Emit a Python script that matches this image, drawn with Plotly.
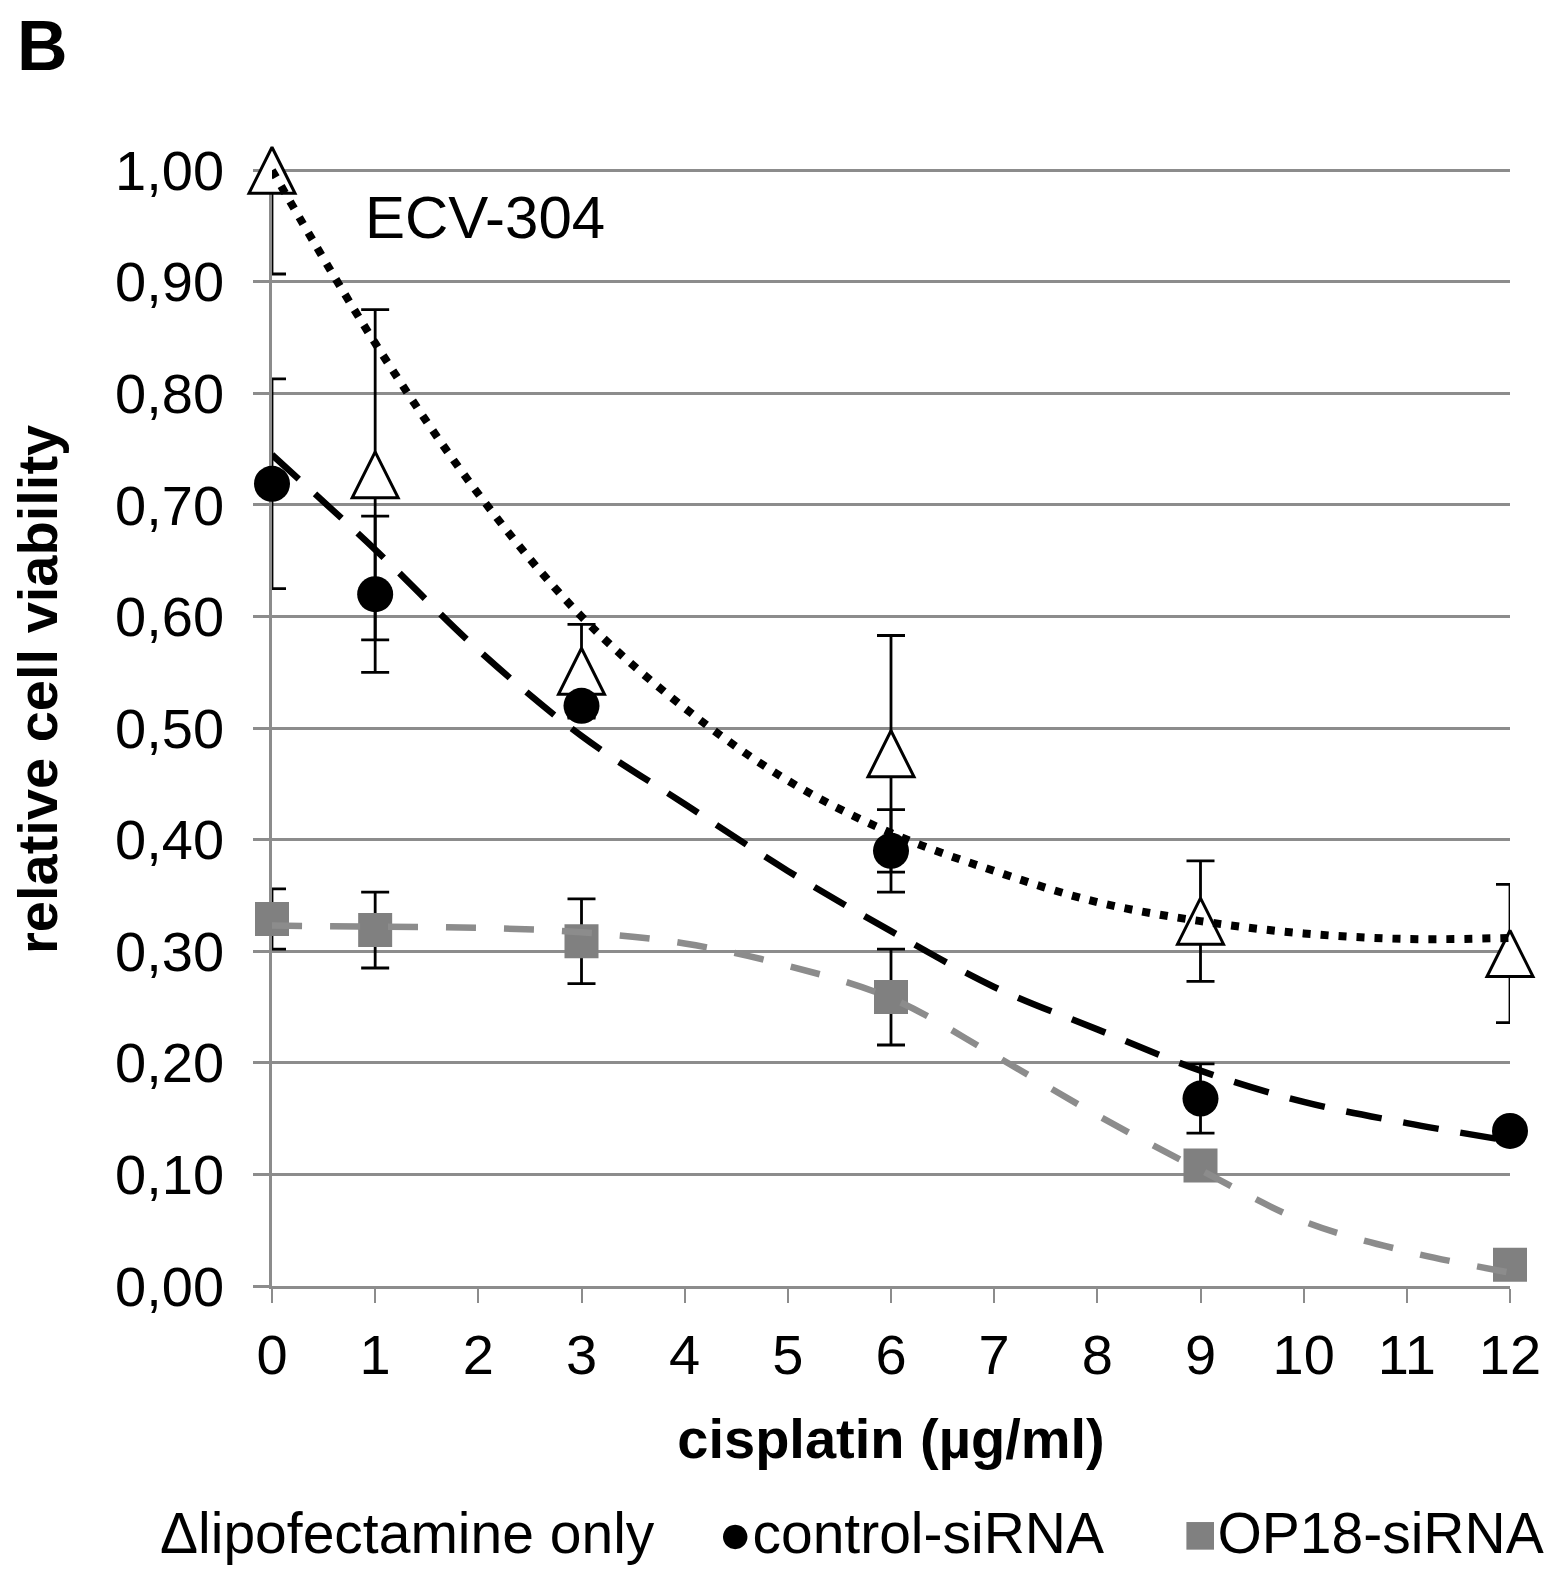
import plotly.graph_objects as go

# ---- data ----
doses = [0, 1, 3, 6, 9, 12]

lipo_mean = [1.00, 0.727, 0.551, 0.477, 0.327, 0.298]
lipo_err = [0.093, 0.148, 0.042, 0.106, 0.054, 0.062]

ctrl_mean = [0.719, 0.620, 0.520, 0.390, 0.168, 0.139]
ctrl_err = [0.094, 0.070, 0.010, 0.037, 0.031, 0.005]

op18_mean = [0.329, 0.319, 0.309, 0.259, 0.108, 0.019]
op18_err = [0.027, 0.034, 0.038, 0.043, 0.005, 0.005]

# trendlines as drawn in the reference (read at each integer dose)
trend_x = [0, 1, 2, 3, 4, 5, 6, 7, 8, 9, 10, 11, 12]
lipo_trend = [1.00, 0.845, 0.71, 0.60, 0.518, 0.453, 0.406, 0.372, 0.344, 0.327, 0.316, 0.311, 0.312]
ctrl_trend = [0.745, 0.66, 0.57, 0.493, 0.432, 0.372, 0.318, 0.268, 0.23, 0.193, 0.165, 0.146, 0.13]
op18_trend = [0.323, 0.322, 0.321, 0.317, 0.307, 0.287, 0.258, 0.207, 0.153, 0.104, 0.058, 0.031, 0.012]

x_ticks = list(range(0, 13))
y_ticks = [0, 0.1, 0.2, 0.3, 0.4, 0.5, 0.6, 0.7, 0.8, 0.9, 1.0]

series_names = ["lipofectamine only", "control-siRNA", "OP18-siRNA"]

FONT = "Liberation Sans, Arial, sans-serif"
GRID = "#8c8c8c"
GRAY = "#808080"

fig = go.Figure()

# error bars (clipped to the plot area)
for mean, err in [(lipo_mean, lipo_err), (ctrl_mean, ctrl_err), (op18_mean, op18_err)]:
    fig.add_trace(go.Scatter(
        x=doses, y=mean, mode="markers",
        marker=dict(size=2, opacity=0),
        error_y=dict(type="data", array=err, visible=True,
                     color="black", thickness=2.8, width=14),
        showlegend=False, hoverinfo="skip", cliponaxis=True))

# markers
fig.add_trace(go.Scatter(
    x=doses, y=lipo_mean, mode="markers", name=series_names[0],
    marker=dict(symbol="arrow-down", angle=180, standoff=23, size=46,
                color="white", line=dict(color="black", width=3)),
    cliponaxis=False, showlegend=False))
fig.add_trace(go.Scatter(
    x=doses, y=ctrl_mean, mode="markers", name=series_names[1],
    marker=dict(symbol="circle", size=36, color="black", line=dict(width=0)),
    cliponaxis=False, showlegend=False))
fig.add_trace(go.Scatter(
    x=doses, y=op18_mean, mode="markers", name=series_names[2],
    marker=dict(symbol="square", size=34, color=GRAY, line=dict(width=0)),
    cliponaxis=False, showlegend=False))

# trendlines
fig.add_trace(go.Scatter(
    x=trend_x, y=lipo_trend, mode="lines", showlegend=False, hoverinfo="skip",
    line=dict(color="black", width=8, dash="8px,10px", shape="spline", smoothing=1)))
fig.add_trace(go.Scatter(
    x=trend_x, y=ctrl_trend, mode="lines", showlegend=False, hoverinfo="skip",
    line=dict(color="black", width=6.5, dash="36px,22px", shape="spline", smoothing=1)))
fig.add_trace(go.Scatter(
    x=trend_x, y=op18_trend, mode="lines", showlegend=False, hoverinfo="skip",
    line=dict(color="#8c8c8c", width=6.5, dash="30px,28px", shape="spline", smoothing=1)))

W, H = 1567, 1574
L, R, T, B = 272, 1567 - 1510, 168, 1574 - 1286
pw, ph = W - L - R, H - T - B


def px(xp):
    return (xp - L) / pw


def py(yp):
    return (H - B - yp) / ph


LEG_FONT = dict(size=57, family=FONT, color="black")
LEG_Y = py(1533)

fig.update_layout(
    width=W, height=H,
    margin=dict(l=L, r=R, t=T, b=B, pad=0),
    paper_bgcolor="white", plot_bgcolor="white",
    separators=", ",
    font=dict(family=FONT, color="black", size=56),
    showlegend=False,
    xaxis=dict(
        range=[0, 12], tickmode="array", tickvals=x_ticks,
        ticktext=[str(v) for v in x_ticks],
        showgrid=False, zeroline=False,
        showline=True, linecolor=GRID, linewidth=2.5,
        ticks="outside", ticklen=14, tickwidth=2, tickcolor=GRID,
        tickfont=dict(size=56, family=FONT, color="black"),
        ticklabelstandoff=4,
        title=dict(text="<b>cisplatin (µg/ml)</b>", font=dict(size=56, family=FONT),
                   standoff=34),
        layer="below traces", automargin=False,
    ),
    yaxis=dict(
        range=[0, 1.002], tickmode="array", tickvals=y_ticks, tickformat=".2f",
        showgrid=True, gridcolor=GRID, gridwidth=2.5, zeroline=False,
        showline=True, linecolor=GRID, linewidth=2.5,
        ticks="outside", ticklen=16, tickwidth=2.5, tickcolor=GRID,
        tickfont=dict(size=56, family=FONT, color="black"),
        ticklabelstandoff=18,
        layer="below traces", automargin=False,
    ),
    annotations=[
        dict(text="<b>relative cell viability</b>", x=px(37), y=py(690),
             xref="paper", yref="paper", textangle=-90,
             xanchor="center", yanchor="middle", showarrow=False,
             font=dict(size=56, family=FONT, color="black")),
        dict(text="<b>B</b>", x=px(15), y=py(46), xref="paper", yref="paper",
             xanchor="left", yanchor="middle", showarrow=False,
             font=dict(size=70, family=FONT, color="black")),
        dict(text="ECV-304", x=px(363), y=py(218), xref="paper", yref="paper",
             xanchor="left", yanchor="middle", showarrow=False,
             font=dict(size=60, family=FONT, color="black")),
        dict(text="Δlipofectamine only", x=px(158), y=LEG_Y, xref="paper", yref="paper",
             xanchor="left", yanchor="middle", showarrow=False, font=LEG_FONT),
        dict(text="●control-siRNA", x=px(716), y=LEG_Y,
             xref="paper", yref="paper",
             xanchor="left", yanchor="middle", showarrow=False, font=LEG_FONT),
        dict(text="<span style='color:#808080'>■</span>OP18-siRNA",
             x=px(1546), y=LEG_Y, xref="paper", yref="paper",
             xanchor="right", yanchor="middle", showarrow=False, font=LEG_FONT),
    ],
)

fig.write_html("out.html", config={"displayModeBar": False},
               post_script="document.body.style.margin='0';")
